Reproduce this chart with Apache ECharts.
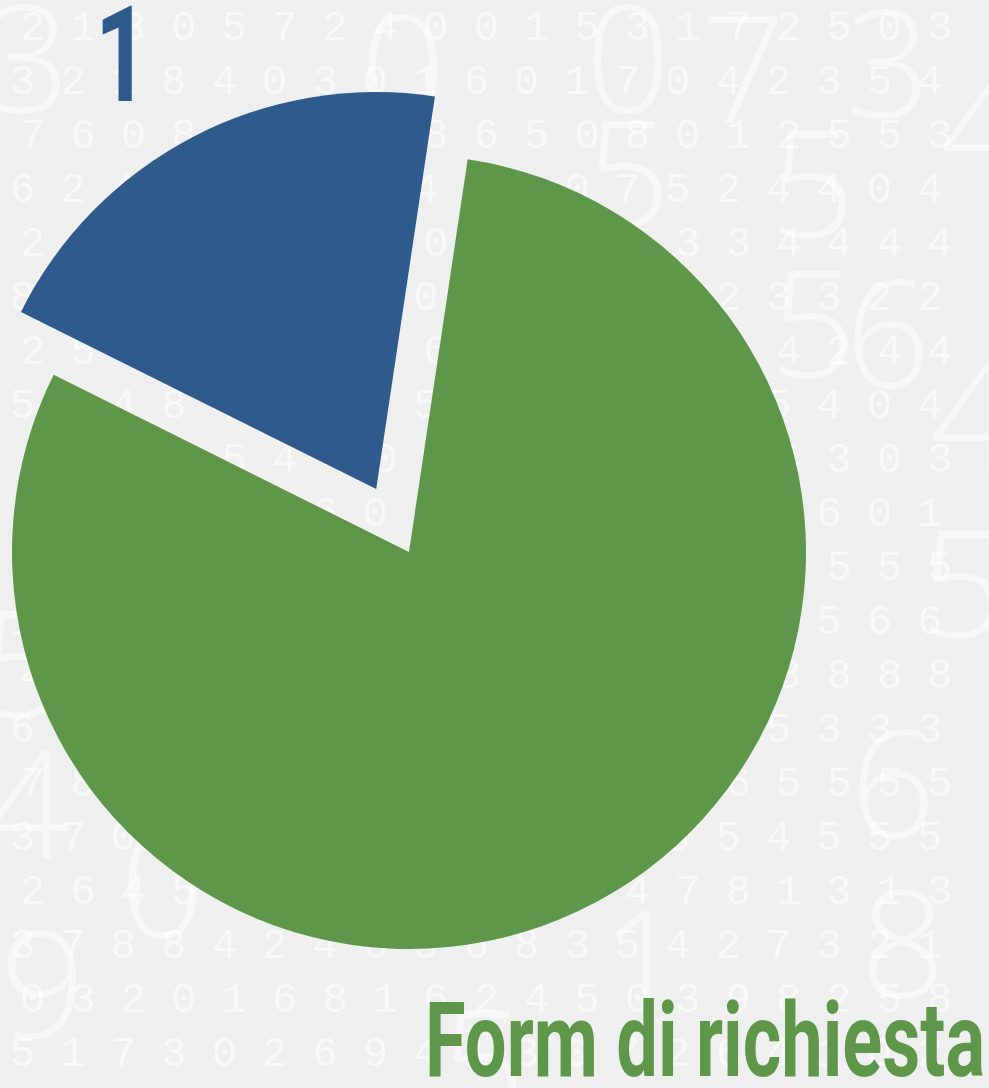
<!DOCTYPE html>
<html>
<head>
<meta charset="utf-8">
<script src="https://cdn.jsdelivr.net/npm/echarts@6/dist/echarts.min.js"></script>
<style>
html,body{margin:0;padding:0;background:#efefef;}
#chart{width:989px;height:1088px;}
</style>
</head>
<body>
<div id="chart"></div>
<script>
// Data
var categories = ['1', 'Form di richiesta'];
var values = [20, 80];
var colors = ['#2f5a8c', '#5e974a'];

// Decorative background texture (rows of faint digits)
var textureRows = [
  '2 1 3 0 5 7 2 4 0 0 1 5 3 1 7 2 5 0 3',
  '3 2 1 8 4 0 3 0 1 6 0 1 7 0 4 2 3 5 4',
  '7 6 0 8 1 6 2 4 8 6 5 0 8 0 1 2 5 5 3',
  '6 2 4 8 5 5 0 8 4 5 0 0 7 5 2 4 4 0 4',
  '2 7 0 3 5 1 0 6 0 0 7 0 5 3 3 4 4 4 4',
  '8 5 6 1 5 5 1 5 0 0 5 0 3 0 2 3 3 2 2',
  '2 5 6 1 4 5 2 5 6 0 6 0 0 5 4 4 2 4 4',
  '5 2 4 8 4 3 6 1 5 0 4 5 5 5 2 5 4 0 4',
  '1 8 0 0 5 4 4 0 0 1 3 5 8 1 7 4 3 0 3',
  '6 0 1 8 5 3 6 0 2 4 0 7 5 6 8 3 6 0 1',
  '4 7 3 0 6 1 7 0 8 5 5 0 2 3 1 6 5 5 5',
  '1 0 7 6 2 0 6 0 8 1 0 5 6 7 3 2 5 6 6',
  '4 5 4 6 1 8 7 3 4 2 6 5 6 3 2 8 8 8 8',
  '6 1 7 7 8 0 5 6 5 6 4 1 4 3 3 5 3 3 3',
  '7 8 7 6 6 0 1 3 8 4 0 6 6 5 6 5 5 5 5',
  '3 7 0 1 1 8 6 0 3 5 1 4 8 3 5 4 5 5 5',
  '2 6 4 5 7 6 0 0 3 5 1 4 4 7 8 1 3 1 3',
  '3 7 8 8 4 2 4 6 5 6 8 3 5 4 2 7 3 2 1',
  '0 3 2 0 1 6 8 1 6 2 4 5 0 3 9 8 2 5 8',
  '5 1 7 3 0 2 6 9 4 1 3 0 7 2 6 4 1 0 2'
];
var bigDigits = ['3', '0', '0', '7', '3', '5', '5', '5', '6', '5', '4', '5', '0', '4', '6', '8', '1', '4', '5', '9'];

var chart = echarts.init(document.getElementById('chart'), null, {renderer: 'canvas'});

function measure(text, font) {
  var c = document.createElement('canvas').getContext('2d');
  c.font = font;
  return c.measureText(text).width;
}

var labelFont = 'bold 104px Roboto';
var w2 = measure(categories[1], labelFont);
var sx2 = 560 / w2;
var oneFont = 'bold 134px Roboto';

var texture = [];
textureRows.forEach(function (row, i) {
  texture.push({
    type: 'text', silent: true, z: -10,
    x: (i % 2 === 0 ? 20 : 10), y: 8 + i * 54,
    style: {text: row, font: '42px "Liberation Mono", "DejaVu Sans Mono", monospace', fill: 'rgba(255,255,255,0.55)', textAlign: 'left', textVerticalAlign: 'top'}
  });
});
var bigPos = [[-15, -5], [585, -5], [360, 5], [700, 5], [845, 0], [585, 110], [770, 120], [770, 260], [845, 270], [-20, 600],
              [-15, 740], [920, 520], [120, 820], [940, 60], [850, 720], [860, 880], [600, 900], [930, 350], [440, 1000], [0, 920]];
bigDigits.forEach(function (d, i) {
  texture.push({
    type: 'text', silent: true, z: -5,
    x: bigPos[i][0], y: bigPos[i][1],
    style: {text: d, font: '300 150px "Open Sans", Lato, sans-serif', fill: 'rgba(255,255,255,0.5)', textAlign: 'left', textVerticalAlign: 'top'}
  });
});

var option = {
  backgroundColor: '#efefef',
  animation: false,
  series: [{
    type: 'pie',
    center: [409, 552],
    radius: 397,
    startAngle: 153.5,
    clockwise: true,
    selectedMode: 'single',
    selectedOffset: 71,
    avoidLabelOverlap: false,
    label: {show: false},
    labelLine: {show: false},
    emphasis: {disabled: true},
    itemStyle: {borderWidth: 0},
    data: categories.map(function (c, i) {
      return {name: c, value: values[i], selected: i === 0, itemStyle: {color: colors[i]}};
    })
  }],
  graphic: texture.concat([
    {
      type: 'text', z: 100,
      x: 95, y: 0,
      scaleX: 0.7,
      style: {text: categories[0], font: oneFont, fill: colors[0], textAlign: 'left', textVerticalAlign: 'top'}
    },
    {
      type: 'text', z: 100,
      x: 425, y: 998,
      scaleX: sx2,
      style: {text: categories[1], font: labelFont, fill: colors[1], textAlign: 'left', textVerticalAlign: 'top'}
    }
  ])
};
chart.setOption(option);
</script>
</body>
</html>
